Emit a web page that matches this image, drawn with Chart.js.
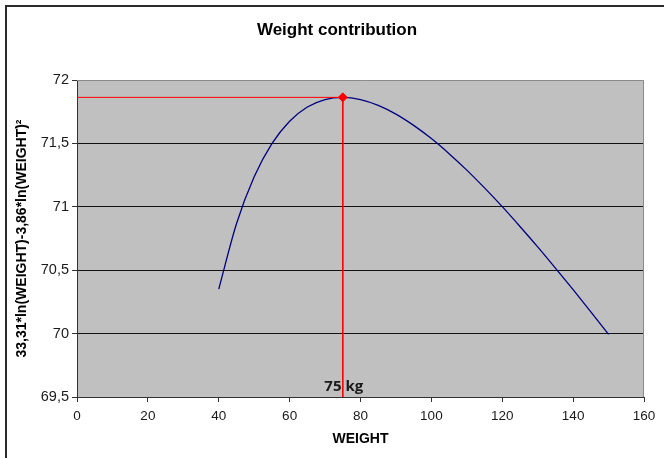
<!DOCTYPE html>
<html>
<head>
<meta charset="utf-8">
<script src="https://cdn.jsdelivr.net/npm/chart.js@4/dist/chart.umd.min.js"></script>
<style>
  html, body { margin: 0; padding: 0; background: #fff; }
  #wrap { width: 664px; height: 458px; }
</style>
</head>
<body>
<div id="wrap"><canvas id="weightChart" width="664" height="458"></canvas></div>
<script>
// values
const weights = [40, 45, 50, 55, 60, 65, 70, 75, 80, 85, 90, 95, 100, 105, 110, 115, 120, 125, 130, 135, 140, 145, 150];
const contribution = [70.351, 70.866, 71.237, 71.498, 71.675, 71.787, 71.846, 71.863, 71.846, 71.800, 71.731, 71.642,
    71.538, 71.419, 71.289, 71.149, 71.001, 70.845, 70.684, 70.517, 70.347, 70.172, 69.994];

// optimum marker
const optimumWeight = 75;
const optimumValue = 71.863;
const optimumLabel = '75 kg';

const xTicks = [0, 20, 40, 60, 80, 100, 120, 140, 160];
const yTicks = [69.5, 70, 70.5, 71, 71.5, 72];

const chartTitle = 'Weight contribution';

const plotDecor = {
    id: 'plotDecor',
    beforeDraw(chart) {
        const { ctx, chartArea: a } = chart;
        ctx.save();
        ctx.fillStyle = '#ffffff';
        ctx.fillRect(0, 0, chart.width, chart.height);
        // outer frame
        ctx.strokeStyle = '#2b2b2b';
        ctx.lineWidth = 2;
        ctx.beginPath();
        ctx.moveTo(6, chart.height + 2);
        ctx.lineTo(6, 6);
        ctx.lineTo(chart.width + 2, 6);
        ctx.stroke();
        ctx.fillStyle = '#c0c0c0';
        ctx.fillRect(a.left, a.top, a.right - a.left, a.bottom - a.top);
        ctx.restore();
    },
    afterDraw(chart) {
        const { ctx, chartArea: a, scales } = chart;
        ctx.save();
        ctx.strokeStyle = '#8a8a8a';
        ctx.lineWidth = 1;
        ctx.beginPath();
        ctx.moveTo(a.left, a.top + 0.5);
        ctx.lineTo(a.right - 0.5, a.top + 0.5);
        ctx.lineTo(a.right - 0.5, a.bottom);
        ctx.stroke();
        // title, centred like the original (slightly right of canvas centre)
        ctx.fillStyle = '#000';
        ctx.font = 'bold 17px "Liberation Sans", Arial, sans-serif';
        ctx.textAlign = 'center';
        ctx.textBaseline = 'middle';
        ctx.fillText(chartTitle, 337, 30);
        // 75 kg label
        ctx.fillStyle = '#1a1a1a';
        ctx.font = 'bold 15px "Open Sans", "Liberation Sans", sans-serif';
        ctx.textBaseline = 'alphabetic';
        ctx.fillText(optimumLabel, scales.x.getPixelForValue(optimumWeight) + 1, a.bottom - 6);
        ctx.restore();
    }
};

const ctx = document.getElementById('weightChart').getContext('2d');
new Chart(ctx, {
    type: 'line',
    data: {
        datasets: [
            {
                data: weights.map((w, i) => ({ x: w, y: contribution[i] })),
                borderColor: '#000080',
                borderWidth: 1.3,
                pointRadius: 0,
                cubicInterpolationMode: 'monotone',
                order: 3
            },
            {
                data: [{ x: 0, y: optimumValue }, { x: optimumWeight, y: optimumValue }],
                borderColor: '#ff0000',
                borderWidth: 1,
                pointRadius: 0,
                order: 2
            },
            {
                data: [{ x: optimumWeight, y: optimumValue }, { x: optimumWeight, y: yTicks[0] }],
                borderColor: '#ff0000',
                borderWidth: 1,
                pointRadius: 0,
                order: 2
            },
            {
                data: [{ x: optimumWeight, y: optimumValue }],
                showLine: false,
                pointStyle: 'rectRot',
                pointRadius: 4.5,
                pointBackgroundColor: '#ff0000',
                pointBorderColor: '#ff0000',
                order: 1
            }
        ]
    },
    options: {
        responsive: false,
        animation: false,
        layout: { padding: { left: 0, right: 20, top: 80, bottom: 0 } },
        plugins: {
            legend: { display: false },
            tooltip: { enabled: false },
            title: { display: false }
        },
        scales: {
            x: {
                type: 'linear',
                min: xTicks[0],
                max: xTicks[xTicks.length - 1],
                afterBuildTicks: s => { s.ticks = xTicks.map(v => ({ value: v })); },
                afterFit: s => { s.height = 61; },
                ticks: {
                    color: '#1a1a1a',
                    font: { family: '"Liberation Sans", Arial, sans-serif', size: 13.5 },
                    padding: 6,
                    maxRotation: 0
                },
                grid: { drawOnChartArea: false, drawTicks: true, tickLength: 5, tickColor: '#333' },
                border: { color: '#333', width: 1 },
                title: {
                    display: true,
                    text: 'WEIGHT',
                    color: '#000',
                    font: { family: '"Liberation Sans", Arial, sans-serif', size: 14, weight: 'bold', lineHeight: 1.2 },
                    padding: { top: 0, bottom: 10 }
                }
            },
            y: {
                min: yTicks[0],
                max: yTicks[yTicks.length - 1],
                afterBuildTicks: s => { s.ticks = yTicks.map(v => ({ value: v })); },
                afterFit: s => { s.width = 77; },
                ticks: {
                    color: '#1a1a1a',
                    font: { family: '"Liberation Sans", Arial, sans-serif', size: 14.5 },
                    padding: 3,
                    callback: v => String(v).replace('.', ',')
                },
                grid: {
                    color: c => (c.tick && c.tick.value === yTicks[yTicks.length - 1]) ? 'rgba(0,0,0,0)' : '#111',
                    lineWidth: 1,
                    tickLength: 5,
                    tickColor: '#333'
                },
                border: { color: '#333', width: 1 },
                title: {
                    display: true,
                    text: '33,31*ln(WEIGHT)-3,86*ln(WEIGHT)²',
                    color: '#000',
                    font: { family: '"Liberation Sans", Arial, sans-serif', size: 14, weight: 'bold', lineHeight: 1.2 },
                    padding: { top: 14, bottom: 0 }
                }
            }
        }
    },
    plugins: [plotDecor]
});
</script>
</body>
</html>
